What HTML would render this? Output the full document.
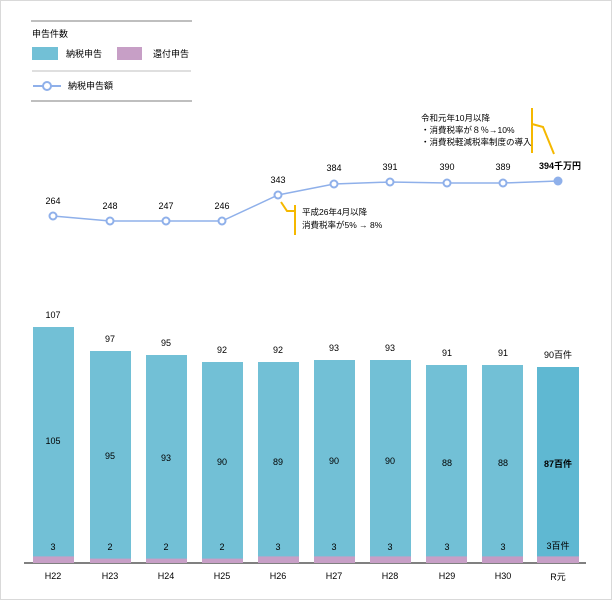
<!DOCTYPE html><html><head><meta charset="utf-8"><style>
body{margin:0;background:#fff}
svg{display:block;font-family:"Liberation Sans","Noto Sans CJK JP",sans-serif}
</style></head><body>
<svg width="613" height="601" viewBox="0 0 613 601">
<rect x="0.5" y="0.5" width="611" height="599" fill="#fff" stroke="#d9d9d9"/>
<line x1="31" y1="21" x2="192" y2="21" stroke="#bfbfbf" stroke-width="2"/>
<text x="32" y="37" font-size="9">申告件数</text>
<rect x="32" y="47" width="26" height="13" fill="#72c0d6"/>
<text x="66" y="57" font-size="9">納税申告</text>
<rect x="117" y="47" width="25" height="13" fill="#c79fc6"/>
<text x="153" y="57" font-size="9">還付申告</text>
<line x1="32" y1="71" x2="191" y2="71" stroke="#bfbfbf"/>
<line x1="33" y1="86" x2="61" y2="86" stroke="#8fb0ea" stroke-width="2"/>
<circle cx="47" cy="86" r="4" fill="#fff" stroke="#8fb0ea" stroke-width="2"/>
<text x="68" y="89" font-size="9">納税申告額</text>
<line x1="31" y1="101" x2="192" y2="101" stroke="#bfbfbf" stroke-width="2"/>
<line x1="24" y1="563" x2="586" y2="563" stroke="#000"/>
<g font-size="9" text-anchor="middle" fill="#000">
<rect x="33" y="327" width="41" height="236" fill="#72c0d6"/><rect x="33" y="556.4" width="41" height="6.6" fill="#c79fc6"/>
<rect x="90" y="351" width="41" height="212" fill="#72c0d6"/><rect x="90" y="558.6" width="41" height="4.4" fill="#c79fc6"/>
<rect x="146" y="355" width="41" height="208" fill="#72c0d6"/><rect x="146" y="558.6" width="41" height="4.4" fill="#c79fc6"/>
<rect x="202" y="362" width="41" height="201" fill="#72c0d6"/><rect x="202" y="558.6" width="41" height="4.4" fill="#c79fc6"/>
<rect x="258" y="362" width="41" height="201" fill="#72c0d6"/><rect x="258" y="556.4" width="41" height="6.6" fill="#c79fc6"/>
<rect x="314" y="360" width="41" height="203" fill="#72c0d6"/><rect x="314" y="556.4" width="41" height="6.6" fill="#c79fc6"/>
<rect x="370" y="360" width="41" height="203" fill="#72c0d6"/><rect x="370" y="556.4" width="41" height="6.6" fill="#c79fc6"/>
<rect x="426" y="365" width="41" height="198" fill="#72c0d6"/><rect x="426" y="556.4" width="41" height="6.6" fill="#c79fc6"/>
<rect x="482" y="365" width="41" height="198" fill="#72c0d6"/><rect x="482" y="556.4" width="41" height="6.6" fill="#c49bc4"/>
<rect x="537" y="367" width="42" height="196" fill="#5fb8d2"/><rect x="537" y="556.4" width="42" height="6.6" fill="#c79fc6"/>
<text x="53" y="318">107</text><text x="53" y="444">105</text><text x="53" y="550">3</text><text x="53" y="579">H22</text>
<text x="110" y="342">97</text><text x="110" y="459">95</text><text x="110" y="550">2</text><text x="110" y="579">H23</text>
<text x="166" y="346">95</text><text x="166" y="461">93</text><text x="166" y="550">2</text><text x="166" y="579">H24</text>
<text x="222" y="353">92</text><text x="222" y="465">90</text><text x="222" y="550">2</text><text x="222" y="579">H25</text>
<text x="278" y="353">92</text><text x="278" y="465">89</text><text x="278" y="550">3</text><text x="278" y="579">H26</text>
<text x="334" y="351">93</text><text x="334" y="464">90</text><text x="334" y="550">3</text><text x="334" y="579">H27</text>
<text x="390" y="351">93</text><text x="390" y="464">90</text><text x="390" y="550">3</text><text x="390" y="579">H28</text>
<text x="447" y="356">91</text><text x="447" y="466">88</text><text x="447" y="550">3</text><text x="447" y="579">H29</text>
<text x="503" y="356">91</text><text x="503" y="466">88</text><text x="503" y="550">3</text><text x="503" y="579">H30</text>
<text x="558" y="358">90百件</text><text x="558" y="467" font-weight="bold">87百件</text><text x="558" y="549">3百件</text><text x="558" y="580">R元</text>
</g>
<polyline points="53,216 110,221 166,221 222,221 278,195 334,184 390,182 447,183 503,183 558,181" fill="none" stroke="#8fb0ea" stroke-width="1.5"/>
<g fill="#fff" stroke="#8fb0ea" stroke-width="2">
<circle cx="53" cy="216" r="3.5"/><circle cx="110" cy="221" r="3.5"/><circle cx="166" cy="221" r="3.5"/><circle cx="222" cy="221" r="3.5"/><circle cx="278" cy="195" r="3.5"/><circle cx="334" cy="184" r="3.5"/><circle cx="390" cy="182" r="3.5"/><circle cx="447" cy="183" r="3.5"/><circle cx="503" cy="183" r="3.5"/>
</g>
<circle cx="558" cy="181" r="4.5" fill="#8fb0ea"/>
<g font-size="9" text-anchor="middle">
<text x="53" y="204">264</text><text x="110" y="209">248</text><text x="166" y="209">247</text><text x="222" y="209">246</text><text x="278" y="183">343</text><text x="334" y="171">384</text><text x="390" y="170">391</text><text x="447" y="170">390</text><text x="503" y="170">389</text>
<text x="560" y="169" font-weight="bold">394千万円</text>
</g>
<polyline points="281,202 287,211 295,211" fill="none" stroke="#f5b800" stroke-width="2"/>
<line x1="295" y1="205" x2="295" y2="235" stroke="#f5b800" stroke-width="2"/>
<line x1="532" y1="108" x2="532" y2="153" stroke="#f5b800" stroke-width="2"/>
<polyline points="532,124 543,127 554,154" fill="none" stroke="#f5b800" stroke-width="2"/>
<g font-size="8.5">
<text x="302" y="215">平成26年4月以降</text>
<text x="302" y="228">消費税率が5% → 8%</text>
<text x="421" y="121">令和元年10月以降</text>
<text x="421" y="133">・消費税率が８％→10%</text>
<text x="421" y="145">・消費税軽減税率制度の導入</text>
</g>
</svg>
</body></html>
